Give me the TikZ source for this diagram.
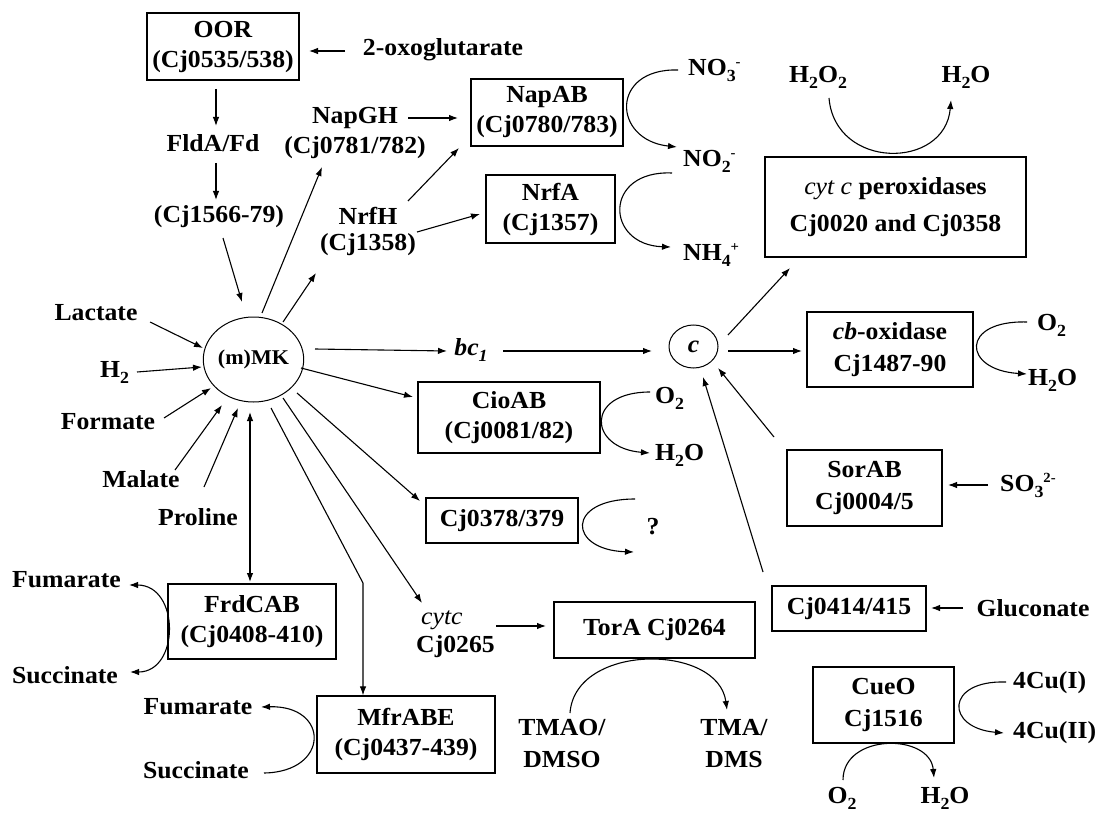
\documentclass[tikz,border=0pt]{standalone}
\usepackage{fontspec}
\setmainfont{Liberation Serif}[FakeStretch=1.05]
\usetikzlibrary{arrows.meta,calc,shapes.geometric}
\newcommand\lowsub[1]{\raisebox{-6pt}{\fontsize{17}{17}\selectfont #1}}
\newcommand\highsup[1]{\raisebox{9pt}{\fontsize{14}{14}\selectfont #1}}
\tikzset{
  bx/.style 2 args={draw, line width=1.2pt, inner sep=0pt, align=center, minimum width=#1pt, minimum height=#2pt},
  arr/.style={-{Latex[length=9pt,width=6.5pt]}, line width=1.1pt},
  arrtwo/.style={{Latex[length=9pt,width=6.5pt]}-{Latex[length=9pt,width=6.5pt]}, line width=1.1pt},
  every node/.style={inner sep=0pt, align=center},
  bit/.style={font=\bfseries\itshape\fontsize{24.5}{30}\selectfont}
}
\begin{document}
\begin{tikzpicture}[x=1pt,y=-1pt,font=\bfseries\fontsize{24.5}{30}\selectfont]
\useasboundingbox (0,0) rectangle (1097,813);
% nodes
\node[bx={152}{67}] (OOR) at (223,46.5) {OOR\\(Cj0535/538)};
\node (oxo) at (443,50) {2-oxoglutarate};
\node (FldA) at (213,143) {FldA/Fd};
\node (Cj1566) at (219,217) {(Cj1566-79)};
\node (NapGH) at (355,133) {NapGH\\(Cj0781/782)};
\node (NrfH) at (368,231) {NrfH\\[-4pt](Cj1358)};
\node[bx={152}{67}] (NapAB) at (547,112.5) {NapAB\\(Cj0780/783)};
\node[bx={129}{68}] (NrfA) at (550.5,209) {NrfA\\(Cj1357)};
\node[anchor=west] (NO3) at (688,70) {NO\lowsub{3}\highsup{-}};
\node[anchor=west] (NO2) at (683,161) {NO\lowsub{2}\highsup{-}};
\node[anchor=west] (NH4) at (683,255) {NH\lowsub{4}\highsup{+}};
\node[bx={261}{100}] (Perox) at (895.5,207) {{\mdseries\itshape cyt c} peroxidases\\[7pt]Cj0020 and Cj0358};
\node (H2O2) at (818,77) {H\lowsub{2}O\lowsub{2}};
\node (H2Ot) at (966,77) {H\lowsub{2}O};
\node[ellipse, draw, line width=1pt, minimum width=95pt, minimum height=85pt, font=\bfseries\fontsize{21}{24}\selectfont] (MK) at (253.5,359.5) {(m)MK};
\node (Lact) at (96,313) {Lactate};
\node[anchor=west] (H2) at (100,372) {H\lowsub{2}};
\node (Form) at (108,422) {Formate};
\node (Mal) at (141,479) {Malate};
\node (Pro) at (198,517) {Proline};
\node[bit] (bc1) at (471,350) {bc\lowsub{1}};
\node[ellipse, draw, line width=1pt, minimum width=49pt, minimum height=43pt, bit] (c) at (693.5,346.5) {c};
\node[bx={166}{75}] (cbox) at (890,349.5) {{\itshape cb}-oxidase\\[2pt]Cj1487-90};
\node[anchor=west] (O2b) at (1037,325) {O\lowsub{2}};
\node[anchor=west] (H2Ob) at (1028,380) {H\lowsub{2}O};
\node[bx={182}{71}] (CioAB) at (509,417.5) {CioAB\\(Cj0081/82)};
\node[anchor=west] (O2a) at (655,398) {O\lowsub{2}};
\node[anchor=west] (H2Oa) at (655,455) {H\lowsub{2}O};
\node[bx={152}{45}] (Cj0378) at (502,520.5) {Cj0378/379};
\node (q) at (653,527) {?};
\node[bx={155}{76}] (SorAB) at (864.5,488) {SorAB\\[2pt]Cj0004/5};
\node[anchor=west] (SO3) at (1000,485) {SO\lowsub{3}\highsup{2-}};
\node[bx={154}{45}] (Cj0414) at (849,608.5) {Cj0414/415};
\node (Gluc) at (1033,608) {Gluconate};
\node[anchor=west, align=left] (cytc) at (416,634) {\hspace*{5pt}{\mdseries\itshape cytc}\\[-2pt]Cj0265};
\node[bx={201}{56}] (TorA) at (654.5,630) {TorA Cj0264};
\node (TMAO) at (562,744) {TMAO/\\[2pt]DMSO};
\node (TMA) at (734,744) {TMA/\\[2pt]DMS};
\node[bx={168}{75}] (FrdCAB) at (252,621.5) {FrdCAB\\(Cj0408-410)};
\node (Fum1) at (66.5,580) {Fumarate};
\node (Succ1) at (65,675) {Succinate};
\node[bx={178}{77}] (MfrABE) at (406,734.5) {MfrABE\\(Cj0437-439)};
\node (Fum2) at (198,707) {Fumarate};
\node (Succ2) at (196,770) {Succinate};
\node[bx={141}{76}] (CueO) at (883.5,705) {CueO\\[2pt]Cj1516};
\node[anchor=west] (Cu1) at (1013,683) {4Cu(I)};
\node[anchor=west] (Cu2) at (1013,733) {4Cu(II)};
\node (O2c) at (842,798) {O\lowsub{2}};
\node (H2Oc) at (945,798) {H\lowsub{2}O};
\coordinate (mfrbend) at ($(MK)+(109.5,223.5)$);
% straight connectors
\draw[arr] ($(oxo)+(-98,1)$) -- ($(OOR)+(86,4.5)$);
\draw[arr] ($(OOR)+(-7,42.5)$) -- ($(FldA)+(3,-17)$);
\draw[arr] ($(FldA)+(3,20)$) -- ($(Cj1566)+(-3,-17)$);
\draw[arr] ($(Cj1566)+(4,21)$) -- ($(MK)+(-11.5,-57.5)$);
\draw[arr] ($(MK)+(8.5,-46.5)$) -- ($(NapGH)+(-33,34)$);
\draw[arr] ($(MK)+(29.5,-37.5)$) -- ($(NrfH)+(-52,42)$);
\draw[arr] ($(NapGH)+(53,-15)$) -- ($(NapAB)+(-89,5.5)$);
\draw[arr] ($(NrfH)+(40,-30)$) -- ($(NapAB)+(-88,35.5)$);
\draw[arr] ($(NrfH)+(49,1)$) -- ($(NrfA)+(-70.5,5)$);
\draw[arr] ($(c)+(34.5,-11.5)$) -- ($(Perox)+(-105.5,61)$);
\draw[arr] ($(c)+(34.5,4.5)$) -- ($(cbox)+(-88,1.5)$);
\draw[arr] ($(MK)+(61.5,-10.5)$) -- ($(bc1)+(-24,1)$);
\draw[arr] ($(bc1)+(32,1)$) -- ($(c)+(-41.5,4.5)$);
\draw[arr] ($(MK)+(47.5,8.5)$) -- ($(CioAB)+(-96,-20.5)$);
\draw[arr] ($(MK)+(43.5,33.5)$) -- ($(Cj0378)+(-82,-19.5)$);
\draw[arr] ($(SO3.west)+(-12,0)$) -- ($(SorAB)+(83.5,-3)$);
\draw[arr] ($(SorAB)+(-90.5,-51)$) -- ($(c)+(24.5,21.5)$);
\draw[arr] ($(Cj0414)+(-86,-36.5)$) -- ($(c)+(9.5,30.5)$);
\draw[arr] ($(Gluc)+(-70,0)$) -- ($(Cj0414)+(82,-0.5)$);
\draw[arr] ($(cytc.west)+(80,-8)$) -- ($(TorA)+(-108.5,-4)$);
\draw[arr] ($(MK)+(29.5,38.5)$) -- ($(cytc.west)+(6,-31)$);
\draw[arrtwo] ($(MK)+(-3.5,52.5)$) -- ($(FrdCAB)+(-2,-39.5)$);
\draw[arr] ($(MK)+(17.5,48.5)$) -- (mfrbend) -- (mfrbend |- MfrABE.north);
\draw[arr] ($(Lact)+(54,9)$) -- ($(MK)+(-50.5,-11.5)$);
\draw[arr] ($(H2.west)+(37,0)$) -- ($(MK)+(-51.5,7.5)$);
\draw[arr] ($(Form)+(56,-4)$) -- ($(MK)+(-42.5,28.5)$);
\draw[arr] ($(Mal)+(34,-9)$) -- ($(MK)+(-31.5,45.5)$);
\draw[arr] ($(Pro)+(6,-30)$) -- ($(MK)+(-15.5,48.5)$);
% curved connectors
\draw[arr] ($(NO3.west)+(-10,0)$) .. controls +(-68,-2) and +(-65,-7) .. ($(NO2.west)+(-6,-14)$);
\draw[arr] ($(NO2.west)+(-11,12)$) .. controls +(-69,-3) and +(-66,-2) .. ($(NH4.west)+(-12,-8)$);
\draw[arr] ($(H2O2)+(11,21)$) .. controls +(6,72) and +(-6,70) .. ($(H2Ot)+(-15,23)$);
\draw[arr] ($(O2b.west)+(-10,-3)$) .. controls +(-67,-2) and +(-65,-4) .. ($(H2Ob.west)+(-1,-6)$);
\draw[arr] ($(O2a.west)+(-5,-6)$) .. controls +(-65,0) and +(-62,-5) .. ($(H2Oa.west)+(-5,-2)$);
\draw[arr] ($(q)+(-18,-28)$) .. controls +(-70,0) and +(-66,-2) .. ($(q)+(-19,25)$);
\draw[arrtwo] ($(Fum1)+(62.5,5)$) .. controls +(51,0) and +(50,0) .. ($(Succ1)+(65,-3)$);
\draw[arr] ($(Succ2)+(68,3)$) .. controls +(66,-1) and +(69,-2) .. ($(Fum2)+(63,0)$);
\draw[arr] ($(TMAO)+(8,-31)$) .. controls +(5,-70) and +(-9,-67) .. ($(TMA)+(-7,-34)$);
\draw[arr] ($(Cu1.west)+(-7,-1)$) .. controls +(-61,-2) and +(-59,-5) .. ($(Cu2.west)+(-9,0)$);
\draw[arr] ($(O2c)+(1,-18)$) .. controls +(0,-47) and +(-4,-45) .. ($(H2Oc)+(-11,-20)$);
\end{tikzpicture}
\end{document}
